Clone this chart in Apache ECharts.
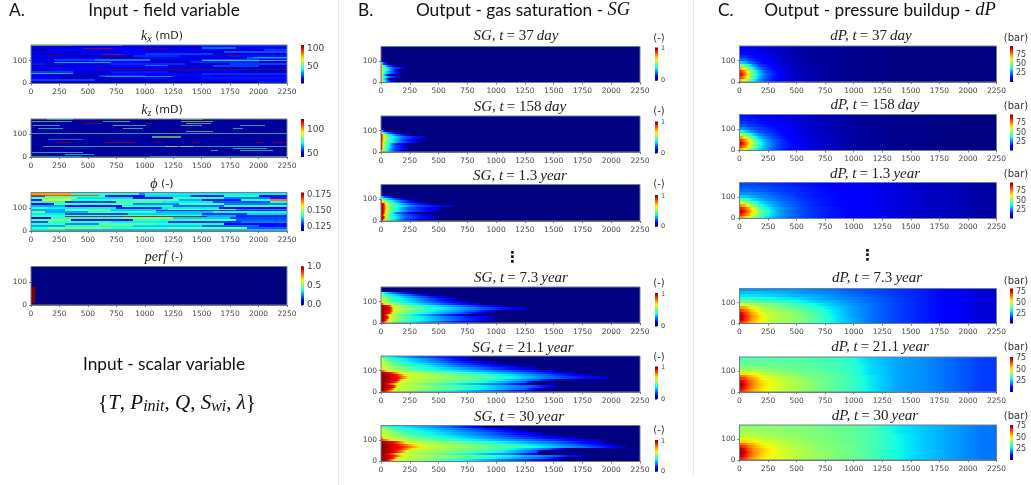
<!DOCTYPE html>
<html><head><meta charset="utf-8">
<style>html,body{margin:0;padding:0;background:#fff}#c{width:1031px;height:485px;filter:blur(.5px)}</style>
<script src="https://cdn.jsdelivr.net/npm/echarts@6/dist/echarts.min.js"></script>
</head><body><div id="c"></div>
<script>
const xTicks = 250, xMax = 2250, yMax = 168, yTickLabels = [0,100];
// Field rows, top to bottom: pairs of [end x, value]
const kxRows = [
[1500,14,2250,20],
[500,13,985,16,1500,14,1800,28,2250,16],
[150,10,700,18,1700,16,2050,11,2250,24],
[280,14,800,12,1200,18,1700,12,2250,26],
[400,12,1000,18,1600,24,2000,13,2250,12],
[300,18,900,11,1300,22,1750,16,2250,20],
[200,12,600,16,1000,10,1500,15,1900,13,2250,26],
[200,16,560,24,1050,30,1500,13,2000,26,2250,14],
[600,12,1000,18,1400,11,2000,22,2250,12],
[120,20,700,13,1350,22,1750,12,2250,24],
[300,11,550,14,1200,18,1600,13,2000,24,2250,11],
[550,16,1200,18,2250,14],
[200,10,700,15,1300,12,1900,18,2250,10],
[370,24,700,14,1200,20,2250,12],
[150,16,650,10,1500,16,2250,22],
[600,12,1000,24,1600,17,2250,12],
[250,18,900,10,1500,14,2250,20],
[560,24,1300,13,2250,16],
[2000,9,2250,20]];
const kxStreaks = [[0,360,163,168,62],[360,800,163,168,40],[985,1220,151,155,109],[460,720,150,154,100],[120,280,126,130,109],[620,825,123,127,100],[1715,1830,119,123,105],[550,2250,61,65,109],[0,370,44,48,52],[1500,2250,100,103,48],[200,700,88,92,44],[650,1250,30,34,38],[1950,2250,112,115,40],[1000,1200,76,79,36]];
const kzBase = [[0,2250,0,168,44]];
const kzStreaks = [[1320,1510,164,168,88],[137,370,164,168,80],[5,356,157,161,80],[635,870,157,161,80],[1320,1600,157,161,88],[1365,1585,148,152,84],[460,635,148,152,120],[1015,1060,148,152,120],[20,255,138,142,78],[720,1015,138,142,80],[1320,1500,138,142,78],[1835,2055,138,142,76],[65,285,124,128,76],[810,985,124,128,80],[1775,1865,124,128,76],[1365,1600,112,116,80],[0,2250,103,107,76],[1060,1320,86,93,84],[150,460,75,79,66],[225,370,61,65,120],[635,930,61,65,120],[1100,1160,61,65,120],[1425,1485,61,65,120],[1980,2055,61,65,120],[2130,2250,61,65,120],[108,2250,46,50,78],[1180,1280,46,50,96],[1320,1425,46,50,88],[1775,2070,36,40,76],[1585,1645,26,30,76],[1835,2130,26,30,78],[5,460,17,21,78],[300,550,10,14,74],[0,450,2,6,70],[1050,2250,2,6,76]];
const phiRows = [
[350,.163,950,.142,1000,.134,2250,.140],
[120,.131,650,.143,1000,.126,1400,.139,1700,.128,2000,.141,2250,.125],
[400,.148,900,.139,1250,.127,1700,.143,2100,.133,2250,.128],
[100,.128,350,.156,700,.142,1300,.146,1500,.136,1850,.127,2100,.142,2250,.166],
[300,.142,750,.130,1150,.144,1600,.140,2100,.131,2250,.142],
[200,.125,900,.145,1300,.134,1700,.145,2250,.133],
[300,.136,800,.126,1250,.142,1700,.132,2250,.144],
[150,.143,750,.140,1150,.128,1650,.140,2250,.125],
[300,.136,700,.146,1200,.138,1800,.145,2250,.134],
[120,.147,500,.136,1100,.144,1600,.137,2250,.142],
[300,.140,850,.130,1500,.138,1900,.129,2250,.138],
[300,.143,1500,.145,1800,.136,2250,.128],
[180,.126,800,.142,1250,.148,1750,.138,2250,.130],
[350,.148,900,.127,1350,.143,1800,.145,2250,.131],
[150,.131,700,.143,1200,.140,1850,.129,2250,.133],
[300,.143,600,.134,1100,.146,1700,.142,2250,.126],
[300,.136,900,.143,1500,.138,2000,.132,2250,.126],
[150,.143,700,.149,1200,.145,1900,.148,2250,.131],
[300,.140,2250,.137]];
const phiStreaks = [[300,1550,63,67,.177],[1100,2250,88,91,.126],[0,600,152,155,.170]];
const perfBlocks = [[0,2250,0,168,0],[0,37,7,80,1]];
// Gas saturation: per row from the bottom, the x where the plume falls to each saturation level
const sgLevels = [1,.88,.6,.42,.22,.06];
const sg37 = [[0,8,25,60,110],[0,8,20,50,70],[0,8,30,80,170],[0,8,20,40,70],[0,10,30,90,165],[0,10,35,100,150],[0,10,35,100,230],[0,8,25,60,130],[0,0,5,20,60]];
const sg158 = [[0,10,40,100,190],[5,15,40,100,240],[5,15,50,110,230],[8,20,60,100,190],[8,20,70,180,340],[10,22,70,170,300],[10,25,80,200,400],[10,22,60,140,250],[0,5,20,70,150],[0,0,0,15,45]];
const sg13 = [[15,30,80,180,330],[25,40,90,220,490],[20,35,90,200,440],[25,40,90,140,300],[30,45,100,250,520],[30,50,110,230,500],[30,50,120,300,620],[28,45,100,240,430],[0,20,70,180,310],[0,0,20,110,220],[0,0,0,30,110]];
const sg73 = [[25,60,200,500,800],[45,70,250,650,980],[60,80,240,620,980],[40,75,200,480,750],[75,100,300,700,900],[85,110,330,780,1000],[90,115,380,880,1270],[70,100,320,750,1050],[0,40,200,550,860],[0,0,130,450,760],[0,0,100,400,650],[0,0,60,350,560],[0,0,30,250,430],[0,0,0,120,280]];
const sg211 = [[55,120,500,1000,1300],[90,130,700,1250,1400],[110,150,700,1300,1530],[70,130,500,1050,1270],[125,170,800,1250,1320],[150,190,900,1350,1500],[160,260,1000,1500,1980],[140,230,900,1450,1800],[90,180,700,1300,1670],[0,70,450,1100,1530],[0,0,300,900,1350],[0,0,250,750,1200],[0,0,200,650,1050],[0,0,120,550,950],[0,0,60,500,800],[0,0,0,300,740]];
const sg30 = [[70,130,600,1150,1500],[100,160,850,1400,1600],[125,200,950,1500,1770],[80,160,650,1150,1370],[140,240,950,1350,1380],[165,300,1050,1450,1600],[180,380,1200,1800,2130],[160,340,1100,1700,2050],[120,240,850,1550,1950],[0,100,600,1350,1900],[0,30,450,1150,1700],[0,0,350,1050,1550],[0,0,250,950,1400],[0,0,200,850,1280],[0,0,100,750,1150],[0,0,0,600,900]];
// Pressure buildup in bar, rows top to bottom, read at these x positions
const dpX = [15,45,80,125,175,225,290,360,450,560,690,825,975,1150,1375,1625,1875,2125];
const dp37 = [
[11,11,10,10,9,8,7,6,5,4,3,3,2,2,1,1,1,1],[12,12,11,11,10,9,7,6,5,4,3,3,2,2,1,1,1,1],[14,14,13,12,11,10,8,7,5,4,3,3,2,2,1,1,1,1],[17,17,15,14,12,11,9,7,6,4,3,3,2,2,1,1,1,1],
[23,22,19,16,14,12,10,8,6,4,3,3,2,2,1,1,1,1],[34,31,25,20,16,13,11,8,6,5,4,3,2,2,1,1,1,1],[52,47,37,27,20,16,12,9,7,5,4,3,2,2,1,1,1,1],[72,62,47,35,25,19,14,10,7,5,4,3,2,2,1,1,1,1],
[86,74,58,43,30,22,16,11,8,6,4,3,2,2,1,1,1,1],[90,78,62,46,33,24,17,12,8,6,4,3,2,2,1,1,1,1],[84,72,58,43,31,23,16,12,8,6,4,3,2,2,1,1,1,1],[70,60,49,38,28,21,15,11,8,6,4,3,2,2,1,1,1,1]];
const dp158 = [
[15,15,14,14,13,12,11,10,9,8,6,5,4,3,2,2,1,1],[16,16,15,15,14,13,12,11,9,8,6,5,4,3,2,2,1,1],[18,18,17,16,15,14,13,11,10,8,6,5,4,3,2,2,1,1],[21,21,19,18,17,15,14,12,10,8,7,5,4,3,2,2,1,1],
[27,26,23,21,19,17,15,13,11,9,7,5,4,3,2,2,1,1],[38,35,30,25,22,19,16,14,11,9,7,5,4,3,2,2,1,1],[56,50,41,33,26,22,18,15,12,9,7,6,4,3,2,2,1,1],[74,66,53,41,32,26,20,16,12,10,7,6,4,3,2,2,1,1],
[87,77,64,50,38,30,23,18,13,10,8,6,4,3,2,2,1,1],[92,82,68,54,41,32,24,18,14,10,8,6,4,3,2,2,1,1],[86,76,64,50,39,31,23,18,14,10,8,6,4,3,2,2,1,1],[72,64,54,44,35,29,22,17,13,10,8,6,4,3,2,2,1,1]];
const dp13 = [
[20,20,20,20,19,19,18,17,16,15,14,13,12,11,9,7,6,4],[22,22,22,21,21,20,19,18,17,16,14,13,12,11,9,7,6,4],[24,24,24,23,22,22,20,19,18,16,15,13,12,11,9,7,6,4],[27,27,27,26,25,24,22,20,19,17,15,14,12,11,9,7,6,4],
[33,33,31,29,27,26,24,22,20,17,15,14,12,11,9,7,6,4],[44,42,38,34,31,28,26,23,21,18,16,14,12,11,9,7,6,4],[60,56,50,42,36,32,28,25,22,19,16,14,12,11,9,7,6,4],[76,70,62,50,42,36,30,26,23,19,16,14,12,11,9,7,6,4],
[88,82,72,60,48,40,33,28,24,20,17,15,13,11,9,7,6,4],[93,86,76,64,51,42,34,28,24,20,17,15,13,11,9,7,6,4],[88,80,72,60,49,41,33,28,24,20,17,15,13,11,9,7,6,4],[76,70,62,52,44,37,31,27,23,20,17,15,13,11,9,7,6,4]];
const dp73 = [
[24,24,24,24,24,24,24,24,24,23,22,21,19,18,16,14,11,8],[27,27,27,27,27,27,26,26,25,24,23,22,20,18,16,14,11,8],[30,30,30,30,30,29,29,28,27,26,25,23,21,19,16,14,11,8],[34,34,34,34,33,33,32,31,30,28,26,24,22,20,17,14,11,8],
[40,40,39,39,38,37,36,35,33,31,28,26,23,20,17,14,11,8],[50,49,48,46,44,43,41,39,37,34,31,27,24,21,17,14,11,8],[62,60,56,52,49,46,44,42,40,37,33,29,25,21,17,14,11,8],[70,67,61,56,52,48,46,44,42,39,35,30,25,21,17,14,11,8],
[76,71,65,59,55,51,48,46,44,41,36,30,25,21,17,14,11,8],[80,73,67,61,57,52,48,46,45,42,37,31,25,21,17,14,11,8],[78,72,66,60,56,52,48,46,45,42,37,31,26,21,17,14,11,8],[72,68,63,58,54,50,47,46,44,41,37,31,26,21,17,14,11,8]];
const dp211 = [
[36,36,36,36,36,36,36,36,36,36,35,34,32,27,24,22,19,16],[37,37,37,37,37,37,37,36,36,36,35,34,32,27,24,22,19,16],[38,38,38,38,38,38,38,37,37,37,36,35,32,28,24,22,19,16],[41,41,41,41,40,40,39,39,38,37,36,35,33,28,24,22,19,16],
[45,45,44,44,43,42,41,40,39,38,37,35,33,28,24,22,19,16],[52,52,51,50,48,46,44,42,41,39,38,36,33,28,24,22,19,16],[62,60,57,54,51,49,47,45,43,41,39,37,34,29,24,22,19,16],[68,65,61,57,53,50,48,46,44,42,39,37,34,29,24,22,19,16],
[73,69,64,59,55,52,49,47,45,43,40,37,34,29,24,22,19,16],[76,71,65,60,56,53,50,48,45,43,40,37,34,29,24,22,19,16],[74,69,64,59,55,52,49,47,45,43,40,37,34,29,24,22,19,16],[70,66,61,57,54,51,49,47,45,43,40,37,34,29,24,22,19,16]];
const dp30 = [
[41,41,41,41,41,41,41,41,40,40,39,38,37,35,29,26,23,20],[42,42,42,42,41,41,41,41,40,40,39,38,37,35,29,26,23,20],[43,43,43,43,42,42,42,41,41,40,39,38,37,35,29,26,23,20],[45,45,45,45,44,44,43,42,41,41,40,39,37,35,30,26,23,20],
[48,48,47,47,46,45,44,43,42,41,40,39,37,35,30,26,23,20],[53,53,52,51,49,47,46,45,43,42,40,39,37,35,30,26,23,20],[62,60,57,55,52,50,48,46,44,43,41,39,38,35,30,26,23,20],[68,65,61,57,54,51,49,47,45,43,41,40,38,35,30,26,23,20],
[73,69,64,59,56,53,50,48,46,44,41,40,38,35,30,26,23,20],[76,71,65,60,56,53,50,48,46,44,42,40,38,35,30,26,23,20],[74,69,64,59,55,52,50,48,46,44,42,40,38,35,30,26,23,20],[70,66,61,57,54,51,49,48,46,44,42,40,38,35,30,26,23,20]];

// Builders: turn each reading into drawable bands [x0,x1,y0,y1,v0,v1,opacity]
function fromField(rows){const h=yMax/rows.length,o=[];rows.forEach((r,i)=>{let s=0;for(let k=0;k<r.length;k+=2){o.push([s,r[k],yMax-(i+1)*h,yMax-i*h,r[k+1],r[k+1],1]);s=r[k];}});return o;}
function fromBlocks(b,op){return b.map(a=>[a[0],a[1],a[2],a[3],a[4],a[4],op||1]);}
function fromSG(rows){const h=10.5,o=[[0,xMax,0,yMax,0,0,1]];rows.forEach((r,i)=>{let s=0;r.forEach((x,k)=>{if(x>s)o.push([s,x,i*h,(i+1)*h,sgLevels[k],sgLevels[k+1],1]);s=Math.max(s,x);});});return o;}
function fromDP(rows){const h=yMax/rows.length,o=[];rows.forEach((r,i)=>{const y0=yMax-(i+1)*h,y1=yMax-i*h;o.push([0,dpX[0],y0,y1,r[0],r[0],1]);for(let k=0;k<r.length-1;k++)o.push([dpX[k],dpX[k+1],y0,y1,r[k],r[k+1],1]);o.push([dpX[r.length-1],xMax,y0,y1,r[r.length-1],r[r.length-1],1]);});return o;}

function jet(t){t=Math.max(0,Math.min(1,t));const c=(a)=>Math.round(255*Math.max(0,Math.min(1,a)));
 const r=t<.35?0:t<.66?(t-.35)/.31:t<.89?1:1-(t-.89)/.11*.5;
 const g=t<.125?0:t<.375?(t-.125)/.25:t<.64?1:t<.91?1-(t-.64)/.27:0;
 const b=t<.11?.5+t/.11*.5:t<.34?1:t<.65?1-(t-.34)/.31:0;
 return 'rgb('+c(r)+','+c(g)+','+c(b)+')';}
const G=echarts.graphic.LinearGradient;
function ramp(a,b,n){const s=[];for(let i=0;i<=n;i++)s.push({offset:i/n,color:jet(a+(b-a)*i/n)});return s;}

const TXT='#444', AXF='DejaVu Sans';
const panels=[
{d:fromField(kxRows).concat(fromBlocks(kxStreaks,.65)),v:[5,109],g:[31,45,256,38.5],b:[301,45,3,38.5],t:[50,100],f:9,fmt:v=>v},
{d:fromBlocks(kzBase).concat(fromBlocks(kzStreaks,.6)),v:[42,123],g:[31,119,256,38],b:[301,119,3,38],t:[50,100],f:9,fmt:v=>v},
{d:fromField(phiRows).concat(fromBlocks(phiStreaks,.8)),v:[.118,.179],g:[31,192.5,256,38.5],b:[301,192.5,3,38.5],t:[.125,.15,.175],f:8.5,fmt:v=>v.toFixed(3)},
{d:fromBlocks(perfBlocks),v:[0,1],g:[31,266.5,256,38.5],b:[301,266.5,3,38.5],t:[0,.5,1],f:9,fmt:v=>v.toFixed(1)},
{d:fromSG(sg37),v:[0,1],g:[381,46.5,259,36],b:[655,47.5,3,33],t:[0,1],f:6.5,fmt:v=>v,top:1.04},
{d:fromSG(sg158),v:[0,1],g:[381,116,259,36],b:[655,121.5,3,31.5],t:[0,1],f:6.5,fmt:v=>v,top:1.04},
{d:fromSG(sg13),v:[0,1],g:[381,184.5,259,36.5],b:[655,195,3,31.5],t:[0,1],f:6.5,fmt:v=>v,top:1.04},
{d:fromSG(sg73),v:[0,1],g:[381,287,259,36],b:[655,293,3,33],t:[0,1],f:6.5,fmt:v=>v,top:1.04},
{d:fromSG(sg211),v:[0,1],g:[381,356,259,36],b:[655,366.5,3,32.5],t:[0,1],f:6.5,fmt:v=>v,top:1.04},
{d:fromSG(sg30),v:[0,1],g:[381,425.5,259,36],b:[655,440,3,31.5],t:[0,1],f:6.5,fmt:v=>v,top:1.04},
{d:fromDP(dp37),v:[1,99],g:[739.5,46,257,36],b:[1010,46,3,36],t:[25,50,75],f:8,fmt:v=>v},
{d:fromDP(dp158),v:[1,99],g:[739.5,114.5,257,36],b:[1010,114.5,3,36],t:[25,50,75],f:8,fmt:v=>v},
{d:fromDP(dp13),v:[1,99],g:[739.5,182.5,257,36],b:[1010,182.5,3,36],t:[25,50,75],f:8,fmt:v=>v},
{d:fromDP(dp73),v:[2,82],g:[739.5,288.5,257,35],b:[1010,288.5,3,35],t:[25,50,75],f:8,fmt:v=>v},
{d:fromDP(dp211),v:[2,78],g:[739.5,357,257,35],b:[1010,357,3,35],t:[25,50,75],f:8,fmt:v=>v},
{d:fromDP(dp30),v:[2,77],g:[739.5,425,257,35],b:[1010,425,3,35],t:[25,50,75],f:8,fmt:v=>v}
];

const grid=[],xAxis=[],yAxis=[],series=[];
panels.forEach(p=>{
 const vn=t=>(t-p.v[0])/(p.v[1]-p.v[0]);
 let gi=grid.length;
 grid.push({left:p.g[0],top:p.g[1],width:p.g[2],height:p.g[3],show:true,borderColor:'#6f7f93',borderWidth:1,backgroundColor:'transparent',z:5});
 xAxis.push({gridIndex:gi,type:'value',min:0,max:xMax,interval:xTicks,splitLine:{show:false},axisLine:{lineStyle:{color:'#555',width:.8}},axisTick:{length:2,lineStyle:{color:'#555',width:.8}},axisLabel:{fontSize:7.5,fontFamily:AXF,color:TXT,margin:5,formatter:v=>String(v)}});
 yAxis.push({gridIndex:gi,type:'value',min:0,max:yMax,splitLine:{show:false},axisLine:{lineStyle:{color:'#555',width:.8}},axisTick:{length:2,lineStyle:{color:'#555',width:.8},customValues:yTickLabels},axisLabel:{fontSize:7.5,fontFamily:AXF,color:TXT,margin:4,customValues:yTickLabels,formatter:v=>String(v)}});
 series.push({type:'custom',coordinateSystem:'cartesian2d',xAxisIndex:gi,yAxisIndex:gi,silent:true,clip:true,animation:false,encode:{x:[0,1],y:[2,3]},data:p.d,
  renderItem:(params,api)=>{const a=api.coord([api.value(0),api.value(2)]),b=api.coord([api.value(1),api.value(3)]);
   const v0=api.value(4),v1=api.value(5);
   const fill=v0===v1?jet(vn(v0)):new G(0,0,1,0,ramp(vn(v0),vn(v1),4));
   const x0=Math.round(a[0]),x1=Math.max(x0+1,Math.round(b[0])),y0=Math.round(b[1]),y1=Math.max(y0+1,Math.round(a[1]));
   return {type:'rect',shape:{x:x0,y:y0,width:x1-x0,height:y1-y0},style:{fill,opacity:api.value(6)}};}});
 gi=grid.length;
 const top=p.top||p.v[1];
 grid.push({left:p.b[0],top:p.b[1],width:p.b[2],height:p.b[3]});
 xAxis.push({gridIndex:gi,type:'value',min:0,max:1,show:false});
 yAxis.push({gridIndex:gi,type:'value',position:'right',min:p.v[0],max:top,splitLine:{show:false},axisLine:{show:false},
  axisTick:{length:2,lineStyle:{color:'#555',width:.8},customValues:p.t},axisLabel:{fontSize:p.f,fontFamily:AXF,color:TXT,margin:3,customValues:p.t,formatter:p.fmt}});
 series.push({type:'custom',coordinateSystem:'cartesian2d',xAxisIndex:gi,yAxisIndex:gi,silent:true,animation:false,clip:false,encode:{y:[0,1]},data:[[p.v[0],top]],
  renderItem:(params,api)=>{const a=api.coord([0,api.value(0)]),b=api.coord([1,api.value(1)]);
   return {type:'rect',shape:{x:a[0],y:b[1],width:b[0]-a[0],height:a[1]-b[1]},style:{fill:new G(0,1,0,0,ramp(0,1,16))}};}});
});

// Text
const HF='Lato', MF='Liberation Serif', W='normal';
const mr={i:{fontFamily:MF,fontStyle:'italic',fontWeight:W,fontSize:15,color:'#222'},n:{fontFamily:MF,fontWeight:W,fontSize:15,color:'#222'}};
const kr={i:{fontFamily:MF,fontStyle:'italic',fontWeight:W,fontSize:14,color:'#222'},s:{fontFamily:MF,fontStyle:'italic',fontWeight:W,fontSize:10,color:'#222',padding:[6,0,0,0]},n:{fontFamily:AXF,fontWeight:W,fontSize:11,color:'#222'}};
const hr={i:{fontFamily:MF,fontStyle:'italic',fontWeight:W,fontSize:18.5,color:'#111'},n:{fontFamily:HF,fontWeight:W,fontSize:17.3,color:'#111'}};
const er={i:{fontFamily:MF,fontStyle:'italic',fontWeight:W,fontSize:21,color:'#111'},s:{fontFamily:MF,fontStyle:'italic',fontWeight:W,fontSize:16,color:'#111',padding:[8,0,0,0]},n:{fontFamily:MF,fontWeight:W,fontSize:21,color:'#111'}};
function T(text,x,y,rich,align,base){return {text,left:x,top:y,textAlign:align||'center',textVerticalAlign:'middle',padding:0,textStyle:Object.assign({rich:rich,fontSize:12,fontWeight:W,color:'#111',fontFamily:HF},base||{})};}
const sgt=(s,u)=>'{i|SG, t} {n|= '+s+'} {i|'+u+'}', dpt=(s,u)=>'{i|dP, t} {n|= '+s+'} {i|'+u+'}';
const title=[
T('{n|A.}',9,10,hr,'left'),T('{n|Input - field variable}',164,10,hr),
T('{i|k}{s|x}{n| (mD)}',162,36,kr),T('{i|k}{s|z}{n| (mD)}',162,110,kr),T('{i|ϕ}{n| (-)}',162,184,kr),T('{i|perf}{n| (-)}',164,257,kr),
T('{n|Input - scalar variable}',164,364,hr),
T('{n|{}{i|T}{n|, }{i|P}{s|init}{n|, }{i|Q}{n|, }{i|S}{s|wi}{n|, }{i|λ}}',177,403,er,'center',{fontFamily:MF,fontSize:21,color:'#111'}),
T('{n|B.}',358,10,hr,'left'),T('{n|Output - gas saturation - }{i|SG}',523,10,hr),
T(sgt('37','day'),516,36,mr),T(sgt('158','day'),520,107,mr),T(sgt('1.3','year'),520,176,mr),T(sgt('7.3','year'),521,278,mr),T(sgt('21.1','year'),523,348,mr),T(sgt('30','year'),519,417,mr),
T('{n|C.}',718,10,hr,'left'),T('{n|Output - pressure buildup - }{i|dP}',880,10,hr),
T(dpt('37','day'),871,36,mr),T(dpt('158','day'),875,105,mr),T(dpt('1.3','year'),875,174,mr),T(dpt('7.3','year'),877,278,mr),T(dpt('21.1','year'),880,347,mr),T(dpt('30','year'),875,416,mr)
];
[[659,38],[659,111],[659,184],[659,283],[659,357],[659,430]].forEach(a=>title.push(T('{n|(-)}',a[0],a[1],{n:{fontFamily:AXF,fontWeight:W,fontSize:10,color:'#333'}})));
[[1016,38],[1016,106],[1016,174],[1016,281],[1016,347],[1016,416]].forEach(a=>title.push(T('{n|(bar)}',a[0],a[1],{n:{fontFamily:AXF,fontWeight:W,fontSize:10,color:'#333'}})));
title.push(T('{n|⋮}',512.5,258,{n:{fontFamily:AXF,fontWeight:'bold',fontSize:15,color:'#111'}}));
title.push(T('{n|⋮}',867.5,256,{n:{fontFamily:AXF,fontWeight:'bold',fontSize:15,color:'#111'}}));

const graphic=[
{type:'line',shape:{x1:338.5,y1:0,x2:338.5,y2:485},style:{stroke:'#ececec',lineWidth:1},silent:true},
{type:'line',shape:{x1:693.5,y1:0,x2:693.5,y2:476},style:{stroke:'#ececec',lineWidth:1},silent:true}
];
const chart=echarts.init(document.getElementById('c'),null,{width:1031,height:485});
chart.setOption({animation:false,backgroundColor:'#fff',title,grid,xAxis,yAxis,series,graphic});
</script></body></html>
